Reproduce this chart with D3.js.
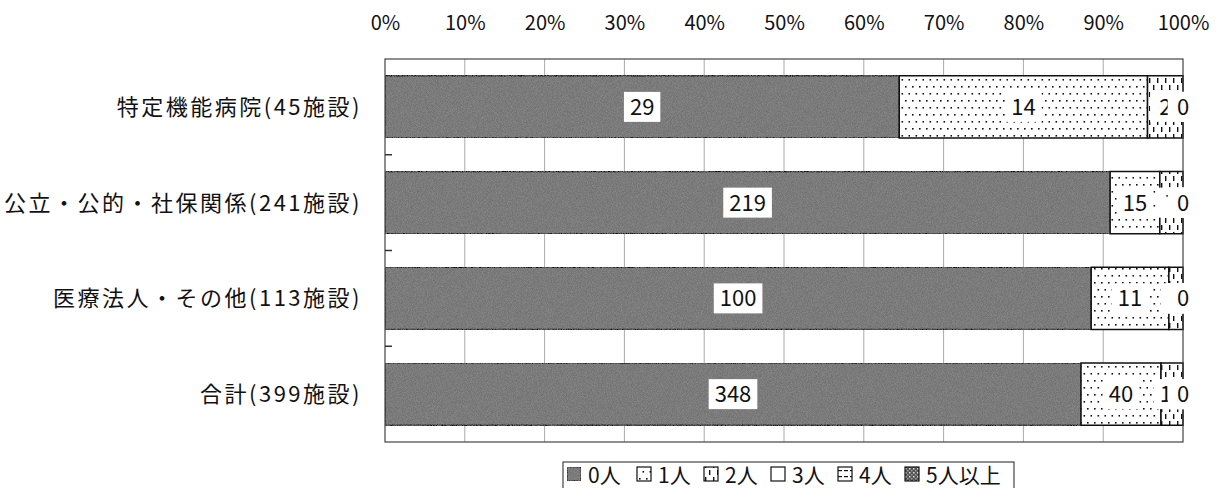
<!DOCTYPE html>
<html><head><meta charset="utf-8">
<script src="https://cdn.jsdelivr.net/npm/d3@7"></script>
<style>
body{margin:0;background:#fff;}
svg{display:block;font-family:"Noto Sans CJK JP","Noto Sans",sans-serif;}
</style></head><body>
<svg id="c" width="1218" height="488"></svg>
<script>
const categories = ["特定機能病院(45施設)","公立・公的・社保関係(241施設)","医療法人・その他(113施設)","合計(399施設)"];
const seriesNames = ["0人","1人","2人","3人","4人","5人以上"];
const s0 = [29,219,100,348];
const s1 = [14,15,11,40];
const s2 = [2,7,2,11];
const s3 = [0,0,0,0];
const s4 = [0,0,0,0];
const s5 = [0,0,0,0];
const tickValues = [0,0.1,0.2,0.3,0.4,0.5,0.6,0.7,0.8,0.9,1];
const tickLabels = ["0%","10%","20%","30%","40%","50%","60%","70%","80%","90%","100%"];

const seriesVals = [s0,s1,s2,s3,s4,s5];
const rows = categories.map((c,i)=>{const r={cat:c};seriesNames.forEach((s,j)=>r[s]=seriesVals[j][i]);return r;});

const svg = d3.select("#c");
const defs = svg.append("defs");
const f = defs.append("filter").attr("id","noise").attr("x",0).attr("y",0).attr("width","100%").attr("height","100%");
f.append("feTurbulence").attr("type","fractalNoise").attr("baseFrequency",1.2).attr("numOctaves",1).attr("seed",3).attr("result","t");
f.append("feColorMatrix").attr("in","t").attr("type","matrix")
 .attr("values","0 0 0 0 0.28  0 0 0 0 0.28  0 0 0 0 0.28  1.6 0 0 0 -0.55").attr("result","n");
f.append("feComposite").attr("in","n").attr("in2","SourceGraphic").attr("operator","in").attr("result","nn");
f.append("feMerge").call(m=>{m.append("feMergeNode").attr("in","SourceGraphic");m.append("feMergeNode").attr("in","nn");});

const pDots = defs.append("pattern").attr("id","pDots").attr("patternUnits","userSpaceOnUse").attr("width",14).attr("height",14);
pDots.append("rect").attr("width",14).attr("height",14).attr("fill","#fff");
[[2,2],[9,2],[5.5,9],[12.5,9]].forEach(p=>pDots.append("rect").attr("x",p[0]).attr("y",p[1]).attr("width",1.6).attr("height",1.6).attr("fill","#111"));

const pDash = defs.append("pattern").attr("id","pDash").attr("patternUnits","userSpaceOnUse").attr("width",8).attr("height",14);
pDash.append("rect").attr("width",8).attr("height",14).attr("fill","#fff");
pDash.append("rect").attr("x",1).attr("y",1).attr("width",1.4).attr("height",5).attr("fill","#111");
pDash.append("rect").attr("x",5).attr("y",8).attr("width",1.4).attr("height",5).attr("fill","#111");

const pHor = defs.append("pattern").attr("id","pHor").attr("patternUnits","userSpaceOnUse").attr("width",6).attr("height",6);
pHor.append("rect").attr("width",6).attr("height",6).attr("fill","#fff");
pHor.append("rect").attr("x",0).attr("y",2).attr("width",4).attr("height",1.2).attr("fill","#111");

const pChk = defs.append("pattern").attr("id","pChk").attr("patternUnits","userSpaceOnUse").attr("width",4).attr("height",4);
pChk.append("rect").attr("width",4).attr("height",4).attr("fill","#555");
pChk.append("rect").attr("x",0).attr("y",0).attr("width",1.5).attr("height",1.5).attr("fill","#ddd");
pChk.append("rect").attr("x",2).attr("y",2).attr("width",1.5).attr("height",1.5).attr("fill","#999");

const fills = ["#737373","url(#pDots)","url(#pDash)","#fff","url(#pHor)","url(#pChk)"];
const color = d3.scaleOrdinal().domain(seriesNames).range(fills);

const L=385, R=1183, T=59, B=442;
const x = d3.scaleLinear().domain([0,1]).range([L,R]);
const y = d3.scaleBand().domain(categories).range([T,B]).paddingInner(0.35).paddingOuter(0.175);

svg.append("rect").attr("x",L).attr("y",T).attr("width",R-L).attr("height",B-T).attr("fill","#fff");

svg.append("g").selectAll("line").data(tickValues.slice(1,-1)).join("line")
 .attr("x1",d=>x(d)).attr("x2",d=>x(d)).attr("y1",T).attr("y2",B)
 .attr("stroke","#aaa").attr("stroke-width",1);

const ax = svg.append("g").attr("transform",`translate(0,${T})`)
 .call(d3.axisTop(x).tickValues(tickValues).tickFormat((d,i)=>tickLabels[i]).tickSize(0).tickPadding(29));
ax.select(".domain").remove();
ax.selectAll("text").attr("font-size",20).attr("fill","#111").attr("font-family","'Noto Sans CJK JP',sans-serif");

const stack = d3.stack().keys(seriesNames).value((d,k)=>d[k]/seriesNames.reduce((a,s)=>a+d[s],0));
const series = stack(rows);

const gBars = svg.append("g");
series.forEach((s,si)=>{
  gBars.append("g").selectAll("rect").data(s).join("rect")
   .attr("x",d=>x(d[0])).attr("width",d=>Math.max(0,x(d[1])-x(d[0])))
   .attr("y",d=>y(d.data.cat)).attr("height",y.bandwidth())
   .attr("fill",color(s.key))
   .attr("filter",si===0?"url(#noise)":null)
   .attr("stroke","#111").attr("stroke-width",1.5);
});

svg.append("rect").attr("x",L).attr("y",T).attr("width",R-L).attr("height",B-T)
 .attr("fill","none").attr("stroke","#444").attr("stroke-width",1.2);

const bounds = categories.slice(1).map(c=>y(c)-y.step()*y.paddingInner()/2);
svg.append("g").selectAll("line").data(bounds).join("line")
 .attr("x1",L).attr("x2",L+7).attr("y1",d=>d).attr("y2",d=>d).attr("stroke","#333").attr("stroke-width",1.5);

svg.append("g").selectAll("text").data(categories).join("text")
 .attr("x",362).attr("y",c=>y(c)+y.bandwidth()/2).attr("dy","0.36em")
 .attr("text-anchor","end").attr("font-size",22).attr("letter-spacing",2.5).attr("fill","#111")
 .text(c=>c);

const gLab = svg.append("g");
series.forEach((s,si)=>{
  s.forEach(d=>{
    const cx = (x(d[0])+x(d[1]))/2, cy = y(d.data.cat)+y.bandwidth()/2;
    const g = gLab.append("g");
    const t = g.append("text").attr("x",cx).attr("y",cy).attr("dy","0.36em")
      .attr("text-anchor","middle").attr("font-size",22).attr("fill","#111")
      .text(d.data[s.key]);
    const w = t.node().getComputedTextLength();
    const pad = w < 15 ? 9 : 6;
    g.insert("rect","text").attr("x",cx-w/2-pad).attr("y",cy-15).attr("width",w+2*pad).attr("height",30).attr("fill","#fff");
  });
});

const lg = svg.append("g");
const legX = [567,637,704,771,838,905];
const lgItems = lg.selectAll("g").data(seriesNames).join("g").attr("transform",(d,i)=>`translate(${legX[i]},0)`);
lgItems.append("rect").attr("x",0).attr("y",467).attr("width",14).attr("height",14)
 .attr("fill",d=>color(d)).attr("stroke","#111").attr("stroke-width",1.2)
 .attr("filter",(d,i)=>i===0?"url(#noise)":null);
lgItems.append("text").attr("x",21).attr("y",475).attr("dy","0.36em").attr("font-size",21).attr("fill","#111").text(d=>d);
lg.append("rect").attr("x",563).attr("y",462).attr("width",451).attr("height",40).attr("fill","none").attr("stroke","#444").attr("stroke-width",1.2);
</script></body></html>
